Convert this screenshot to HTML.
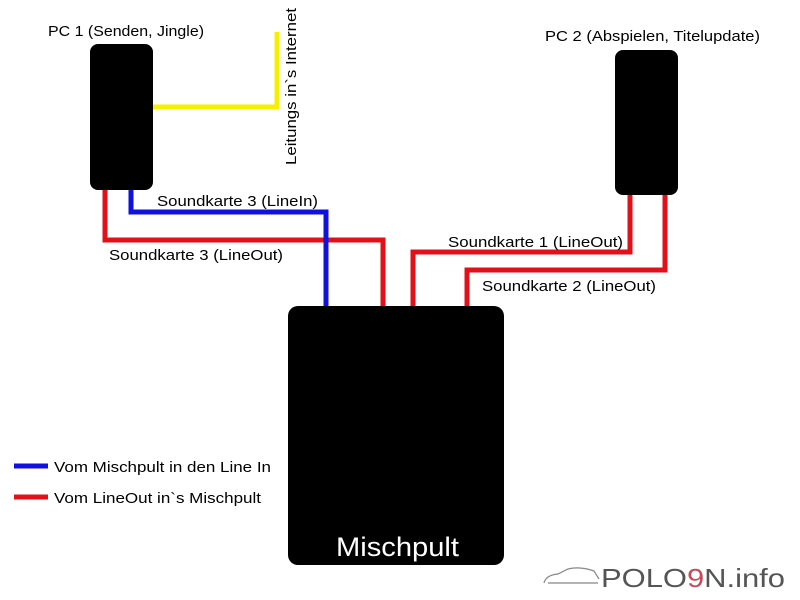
<!DOCTYPE html>
<html><head><meta charset="utf-8"><style>
html,body{margin:0;padding:0;background:#fff}
svg{display:block}
text{font-family:"Liberation Sans",sans-serif;fill:#000}
</style></head><body>
<svg width="800" height="600" viewBox="0 0 800 600" xmlns="http://www.w3.org/2000/svg">
<rect width="800" height="600" fill="#fff"/>
<g fill="none" stroke-width="5" stroke-linejoin="miter">
<polyline points="153,107 277,107 277,32" stroke="#f5f000"/>
<polyline points="105,188 105,240 383,240 383,306" stroke="#e3101a"/>
<polyline points="131,188 131,212 326,212 326,306" stroke="#1010e0"/>
<polyline points="630,193 630,252 413,252 413,306" stroke="#e3101a"/>
<polyline points="665,193 665,270 467,270 467,306" stroke="#e3101a"/>
<line x1="14" y1="466" x2="48" y2="466" stroke="#1010e0"/>
<line x1="14" y1="497" x2="48" y2="497" stroke="#e3101a"/>
</g>
<rect x="90" y="44" width="63" height="146" rx="8" fill="#000"/>
<rect x="615" y="50" width="63" height="145" rx="8" fill="#000"/>
<rect x="288" y="306" width="216" height="259" rx="10" fill="#000"/>
<g font-size="15" lengthAdjust="spacingAndGlyphs">
<text x="48" y="36" textLength="156" lengthAdjust="spacingAndGlyphs">PC 1 (Senden, Jingle)</text>
<text x="545" y="41" textLength="215" lengthAdjust="spacingAndGlyphs">PC 2 (Abspielen, Titelupdate)</text>
<text transform="translate(296,165) rotate(-90)" textLength="157" lengthAdjust="spacingAndGlyphs">Leitungs in`s Internet</text>
<text x="157" y="206" textLength="161" lengthAdjust="spacingAndGlyphs">Soundkarte 3 (LineIn)</text>
<text x="109" y="260" textLength="174" lengthAdjust="spacingAndGlyphs">Soundkarte 3 (LineOut)</text>
<text x="448" y="247" textLength="175" lengthAdjust="spacingAndGlyphs">Soundkarte 1 (LineOut)</text>
<text x="482" y="291" textLength="174" lengthAdjust="spacingAndGlyphs">Soundkarte 2 (LineOut)</text>
<text x="54" y="472" textLength="217" lengthAdjust="spacingAndGlyphs">Vom Mischpult in den Line In</text>
<text x="54" y="503" textLength="207" lengthAdjust="spacingAndGlyphs">Vom LineOut in`s Mischpult</text>
</g>
<text x="336" y="556" font-size="27" textLength="123" lengthAdjust="spacingAndGlyphs" style="fill:#fff">Mischpult</text>
<path d="M544,583 q2,-8 14,-9 l10,-5 q12,-3 26,2 l5,8 M548,583 h50" fill="none" stroke="#888" stroke-width="1.2"/>
<text x="601" y="587" font-size="26" textLength="184" lengthAdjust="spacingAndGlyphs" style="fill:#555">POLO<tspan style="fill:#c84a5a">9</tspan>N.info</text>
</svg>
</body></html>
